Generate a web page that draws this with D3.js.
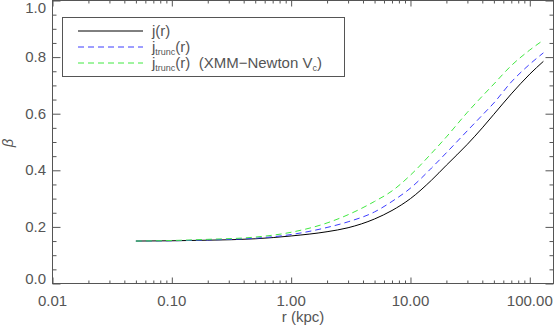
<!DOCTYPE html>
<html><head><meta charset="utf-8">
<script src="https://cdn.jsdelivr.net/npm/d3@7"></script>
<style>
body{margin:0;background:#fff}
svg{display:block}
text{font-family:"Liberation Sans",Arial,sans-serif}
</style>
</head><body>
<svg id="c" width="554" height="328"></svg>
<script>
// ---- data ----
const radius    = [0.05, 0.1, 0.2, 0.5, 1, 2, 3, 5, 7, 10, 15, 20, 30, 40, 50, 70, 100, 130];
const jR        = [0.150, 0.151, 0.153, 0.158, 0.168, 0.183, 0.197, 0.228, 0.258, 0.300, 0.365, 0.418, 0.492, 0.550, 0.598, 0.670, 0.740, 0.785];
const jTrunc    = [0.150, 0.151, 0.154, 0.160, 0.173, 0.198, 0.218, 0.253, 0.290, 0.337, 0.408, 0.462, 0.540, 0.595, 0.638, 0.712, 0.775, 0.815];
const jTruncXMM = [0.150, 0.152, 0.156, 0.164, 0.181, 0.214, 0.243, 0.290, 0.327, 0.383, 0.460, 0.518, 0.605, 0.662, 0.705, 0.770, 0.825, 0.860];
const xTickValues = [0.01, 0.1, 1, 10, 100];
const xTickLabels = ["0.01", "0.10", "1.00", "10.00", "100.00"];
const yTickValues = [0, 0.2, 0.4, 0.6, 0.8, 1.0];
const yTickLabels = ["0.0", "0.2", "0.4", "0.6", "0.8", "1.0"];
const xDomain = [0.01, 158];
const yDomain = [0, 1];

const series = [
  {values: jR,        color: "#000000", dash: null,  label: [["j", 0], ["(r)", 0]]},
  {values: jTrunc,    color: "#3c3cff", dash: "6,4", label: [["j", 0], ["trunc", 1], ["(r)", 0]]},
  {values: jTruncXMM, color: "#40e840", dash: "6,4", label: [["j", 0], ["trunc", 1], ["(r)\u00a0\u00a0(XMM\u2212Newton\u00a0V", 0], ["c", 1], [")", 0]]}
];

const svg = d3.select("#c");
const L = 52.5, R = 553.5, T = 0.5, B = 283.5;
const x = d3.scaleLog().domain(xDomain).range([L, R]);
const y = d3.scaleLinear().domain(yDomain).range([B, T]);
const axisColor = "#555";
const textColor = "#555";

// minor tick values
const xMinor = [];
[0.01, 0.1, 1, 10, 100].forEach(d => { for (let k = 2; k <= 9; k++) { const v = d * k; if (v <= xDomain[1]) xMinor.push(v); } });
const yMinor = d3.range(0, 1.0001, 0.05).filter(v => Math.abs(v * 5 - Math.round(v * 5)) > 1e-6);

// axes (box style, ticks inward)
const gB = svg.append("g").attr("transform", `translate(0,${B})`)
  .call(d3.axisTop(x).tickValues(xTickValues).tickSize(6).tickFormat(""));
const gBm = svg.append("g").attr("transform", `translate(0,${B})`)
  .call(d3.axisTop(x).tickValues(xMinor).tickSize(3).tickFormat(""));
const gT = svg.append("g").attr("transform", `translate(0,${T})`)
  .call(d3.axisBottom(x).tickValues(xTickValues).tickSize(6).tickFormat(""));
const gTm = svg.append("g").attr("transform", `translate(0,${T})`)
  .call(d3.axisBottom(x).tickValues(xMinor).tickSize(3).tickFormat(""));
const gL = svg.append("g").attr("transform", `translate(${L},0)`)
  .call(d3.axisRight(y).tickValues(yTickValues).tickSize(8).tickFormat(""));
const gLm = svg.append("g").attr("transform", `translate(${L},0)`)
  .call(d3.axisRight(y).tickValues(yMinor).tickSize(4).tickFormat(""));
const gR = svg.append("g").attr("transform", `translate(${R},0)`)
  .call(d3.axisLeft(y).tickValues(yTickValues).tickSize(8).tickFormat(""));
const gRm = svg.append("g").attr("transform", `translate(${R},0)`)
  .call(d3.axisLeft(y).tickValues(yMinor).tickSize(4).tickFormat(""));
[gB, gBm, gT, gTm, gL, gLm, gR, gRm].forEach(g => {
  g.selectAll(".domain").remove();
  g.selectAll("line").attr("stroke", axisColor).attr("stroke-width", 1);
});
svg.append("rect").attr("x", L).attr("y", T).attr("width", R - L).attr("height", B - T)
  .attr("fill", "none").attr("stroke", axisColor).attr("stroke-width", 1);

// tick labels
svg.append("g").selectAll("text").data(xTickValues).join("text")
  .attr("x", d => x(d)).attr("y", 306)
  .attr("text-anchor", "middle").attr("font-size", 15).attr("fill", textColor)
  .text((d, i) => xTickLabels[i]);
svg.append("g").selectAll("text").data(yTickValues).join("text")
  .attr("x", 46).attr("y", d => Math.min(279, Math.max(8, y(d))) + 5)
  .attr("text-anchor", "end").attr("font-size", 15).attr("fill", textColor)
  .text((d, i) => yTickLabels[i]);

// axis titles
svg.append("text").attr("x", (L + R) / 2).attr("y", 322).attr("text-anchor", "middle")
  .attr("font-size", 15).attr("fill", textColor).text("r (kpc)");
svg.append("text").attr("transform", "translate(13,143) rotate(-90)").attr("text-anchor", "middle")
  .attr("font-size", 15).attr("font-style", "italic").attr("fill", textColor).text("\u03b2");

// curves
const line = d3.line().x((d, i) => x(radius[i])).y(d => y(d)).curve(d3.curveMonotoneX);
series.forEach(s => {
  svg.append("path").datum(s.values).attr("d", line)
    .attr("fill", "none").attr("stroke", s.color).attr("stroke-width", 1)
    .attr("stroke-dasharray", s.dash);
});

// legend
svg.append("rect").attr("x", 62.5).attr("y", 17.5).attr("width", 282).attr("height", 59)
  .attr("fill", "#fff").attr("stroke", axisColor).attr("stroke-width", 1);
series.forEach((s, i) => {
  const ly = 31 + i * 16;
  svg.append("line").attr("x1", 78).attr("x2", 143).attr("y1", ly).attr("y2", ly)
    .attr("stroke", s.color).attr("stroke-width", 1).attr("stroke-dasharray", s.dash);
  const t = svg.append("text").attr("x", 152).attr("y", ly + 5).attr("font-size", 15).attr("fill", textColor);
  let shifted = false;
  s.label.forEach(([str, sub]) => {
    let dy = 0;
    if (sub && !shifted) { dy = 3; shifted = true; }
    else if (!sub && shifted) { dy = -3; shifted = false; }
    t.append("tspan").attr("font-size", sub ? 9 : 15).attr("dy", dy).text(str);
  });
});
</script>
</body></html>
